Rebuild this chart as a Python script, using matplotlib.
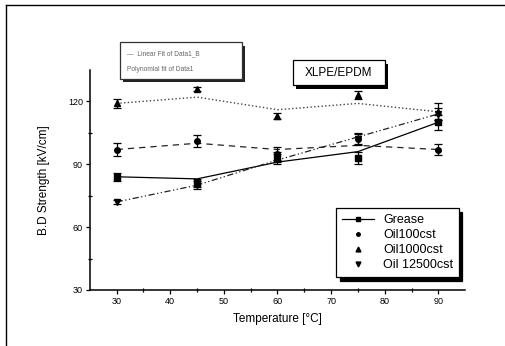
import numpy as np
import matplotlib.pyplot as plt
import matplotlib as mpl
from matplotlib.patches import Rectangle
from matplotlib.lines import Line2D

mpl.rcParams['font.family'] = 'sans-serif'
mpl.rcParams['font.sans-serif'] = ['Liberation Sans', 'DejaVu Sans']

# data
temp = [30, 45, 60, 75, 90]

grease = [84, 81, 93, 93, 110]
grease_err = [2, 2, 2, 3, 3.5]
grease_fit = [84, 83, 91, 96, 110]

oil100 = [97, 101, 95, 102, 97]
oil100_err = [3, 3, 3, 3, 2.5]
oil100_fit = [97, 100, 97, 99, 97]

oil1000 = [119, 126, 113, 123, 115]
oil1000_err = [2, 1, 1.5, 2, 4]
oil1000_fit = [119, 122, 116, 119, 115]

oil12500 = [72, 80, 93, 102, 114]
oil12500_err = [1, 2, 3, 2.5, 3]
oil12500_fit = [72, 80, 92, 103, 114]

fig = plt.figure(figsize=(5.05, 3.46), dpi=100)
ax = fig.add_axes([0.178, 0.162, 0.743, 0.636])

ms = 4
ek = dict(fmt='none', ecolor='black', elinewidth=0.9, capsize=3, capthick=0.9)

ax.plot(temp, grease_fit, '-', color='black', lw=0.9)
ax.plot(temp, oil100_fit, '--', color='#222222', lw=0.9, dashes=(5, 4))
ax.plot(temp, oil1000_fit, ':', color='#444444', lw=1.0)
ax.plot(temp, oil12500_fit, '-', color='#222222', lw=0.9, dashes=(5, 2, 1, 2, 1, 2))

ax.errorbar(temp, grease, yerr=grease_err, **ek)
ax.errorbar(temp, oil100, yerr=oil100_err, **ek)
ax.errorbar(temp, oil1000, yerr=oil1000_err, **ek)
ax.errorbar(temp, oil12500, yerr=oil12500_err, **ek)

ax.plot(temp, grease, 's', color='black', ms=ms)
ax.plot(temp, oil100, 'o', color='black', ms=ms)
ax.plot(temp, oil1000, '^', color='black', ms=ms)
ax.plot(temp, oil12500, 'v', color='black', ms=ms)

ax.set_xlim(25, 95)
ax.set_ylim(30, 135)
ax.set_xticks([30, 40, 50, 60, 70, 80, 90])
ax.set_xticks(np.arange(35, 95, 10), minor=True)
ax.set_yticks([30, 60, 90, 120])
ax.set_yticks([45, 75, 105], minor=True)
ax.tick_params(axis='both', which='major', direction='out', length=3, width=0.9, labelsize=6.5, pad=2)
ax.tick_params(axis='both', which='minor', direction='inout', length=3, width=0.9)
ax.spines['top'].set_visible(False)
ax.spines['right'].set_visible(False)
ax.spines['left'].set_linewidth(1.1)
ax.spines['bottom'].set_linewidth(1.1)

ax.set_xlabel('Temperature [\u00b0C]', fontsize=8.5, labelpad=5)
ax.set_ylabel('B.D Strength [kV/cm]', fontsize=8.5, labelpad=13)

handles = [Line2D([], [], color='black', lw=0.9, marker='s', ms=ms - 0.5),
           Line2D([], [], color='black', ls='none', marker='o', ms=ms - 1.5),
           Line2D([], [], color='black', ls='none', marker='^', ms=ms - 0.5),
           Line2D([], [], color='black', ls='none', marker='v', ms=ms - 0.5)]
labels = ['Grease', 'Oil100cst', 'Oil1000cst', 'Oil 12500cst']
leg = ax.legend(handles, labels, loc='lower right', bbox_to_anchor=(1.0, 0.03),
                fontsize=9, frameon=True, fancybox=False, handlelength=2.6,
                borderpad=0.45, labelspacing=0.25, handletextpad=0.7,
                shadow={'color': 'black', 'alpha': 1, 'ox': 2.5, 'oy': -2.5})
leg.get_frame().set_edgecolor('black')
leg.get_frame().set_linewidth(0.9)

# XLPE/EPDM label box with shadow
fig.patches.append(Rectangle((0.586, 0.743), 0.182, 0.072, transform=fig.transFigure,
                             facecolor='black', edgecolor='none', zorder=5))
fig.patches.append(Rectangle((0.580, 0.754), 0.182, 0.072, transform=fig.transFigure,
                             facecolor='white', edgecolor='black', lw=0.9, zorder=6))
fig.text(0.671, 0.790, 'XLPE/EPDM', ha='center', va='center', fontsize=8.5, zorder=7)

# faint text box top left
fig.patches.append(Rectangle((0.243, 0.762), 0.243, 0.106, transform=fig.transFigure,
                             facecolor='#222222', edgecolor='none', zorder=5))
fig.patches.append(Rectangle((0.237, 0.772), 0.243, 0.106, transform=fig.transFigure,
                             facecolor='white', edgecolor='#333333', lw=0.9, zorder=6))
fig.text(0.252, 0.840, '\u2014  Linear Fit of Data1_B', fontsize=4.8, color='#666666', zorder=7)
fig.text(0.252, 0.795, 'Polynomial fit of Data1', fontsize=4.8, color='#666666', zorder=7)

# outer frame
fig.lines.append(Line2D([0.011, 1.0], [0.985, 0.985], transform=fig.transFigure, color='black', lw=1.0))
fig.lines.append(Line2D([0.011, 0.011], [0.0, 0.985], transform=fig.transFigure, color='black', lw=1.0))

fig.savefig('out.png', dpi=100)
